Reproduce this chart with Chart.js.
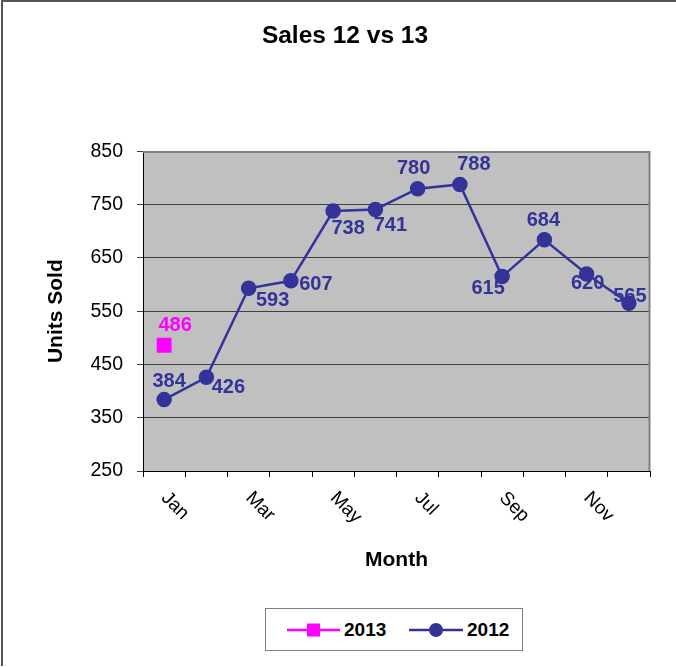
<!DOCTYPE html>
<html>
<head>
<meta charset="utf-8">
<script src="https://cdn.jsdelivr.net/npm/chart.js@4"></script>
<style>
  body { margin: 0; background: #fff; }
  #wrap { position: relative; width: 676px; height: 667px; }
  #legend {
    position: absolute; left: 265px; top: 608px; width: 258px; height: 43px;
    box-sizing: border-box; border: 1px solid #808080; background: #fff;
    font: bold 19px "Liberation Sans", Arial, sans-serif; color: #000;
  }
  #legend svg { position: absolute; left: 0; top: 0; }
  #legend span { position: absolute; top: 10px; line-height: 22px; }
</style>
</head>
<body>
<div id="wrap">
  <canvas id="salesChart"></canvas>
  <div id="legend">
    <svg width="258" height="43">
      <line x1="21" y1="21" x2="74" y2="21" stroke="#FF00FF" stroke-width="2.5"/>
      <rect x="41" y="14.5" width="13" height="13" fill="#FF00FF"/>
      <line x1="143" y1="21" x2="197" y2="21" stroke="#333399" stroke-width="2.5"/>
      <circle cx="170" cy="21" r="7" fill="#333399"/>
    </svg>
    <span style="left:78px">2013</span>
    <span style="left:201px">2012</span>
  </div>
</div>
<script>
const months = ["Jan", "Feb", "Mar", "Apr", "May", "Jun", "Jul", "Aug", "Sep", "Oct", "Nov", "Dec"];
const sales2012 = [384, 426, 593, 607, 738, 741, 780, 788, 615, 684, 620, 565];
const sales2013 = [486, null, null, null, null, null, null, null, null, null, null, null];
const yMin = 250;
const yMax = 850;
const yStep = 100;

// where each value label sits relative to its point (dx, dy)
const labelPos2012 = [[5, -18], [22, 10], [24, 12], [25, 4], [15, 17], [15, 16], [-4, -20], [14, -20], [-14, 12], [-1, -19], [1, 10], [1, -7]];
const labelPos2013 = [[11, -20]];

const fontFamily = '"Liberation Sans", Arial, sans-serif';
Chart.defaults.font.family = fontFamily;

const framePlugin = {
  id: "frame",
  beforeDraw(chart) {
    const ctx = chart.ctx;
    const a = chart.chartArea;
    ctx.save();
    ctx.fillStyle = "#fff";
    ctx.fillRect(0, 0, chart.width, chart.height);
    ctx.strokeStyle = "#555";
    ctx.lineWidth = 2;
    ctx.beginPath();
    ctx.moveTo(2, chart.height - 1);
    ctx.lineTo(2, 1);
    ctx.lineTo(chart.width, 1);
    ctx.stroke();
    ctx.fillStyle = "#C0C0C0";
    ctx.fillRect(a.left, a.top, a.right - a.left, a.bottom - a.top);
    ctx.restore();
  },
  beforeDatasetsDraw(chart) {
    const ctx = chart.ctx;
    const a = chart.chartArea;
    ctx.save();
    ctx.strokeStyle = "#808080";
    ctx.lineWidth = 2;
    ctx.beginPath();
    ctx.moveTo(a.left, a.top + 0.5);
    ctx.lineTo(a.right - 0.5, a.top + 0.5);
    ctx.lineTo(a.right - 0.5, a.bottom);
    ctx.stroke();
    ctx.restore();
  },
  afterDraw(chart) {
    const ctx = chart.ctx;
    const x = chart.scales.x;
    ctx.save();
    ctx.font = "19px " + fontFamily;
    ctx.fillStyle = "#000";
    ctx.textAlign = "left";
    ctx.textBaseline = "middle";
    months.forEach((m, i) => {
      if (i % 2 !== 0) return;
      const px = x.getPixelForValue(i);
      ctx.save();
      ctx.translate(px, chart.chartArea.bottom + 24);
      ctx.rotate(Math.PI / 4);
      ctx.fillText(m, 0, 0);
      ctx.restore();
    });

    ctx.font = "bold 20px " + fontFamily;
    ctx.textAlign = "center";
    const drawLabels = (dsIndex, values, offsets, color) => {
      const meta = chart.getDatasetMeta(dsIndex);
      ctx.fillStyle = color;
      values.forEach((v, i) => {
        if (v === null) return;
        const pt = meta.data[i];
        const off = offsets[i];
        ctx.fillText(String(v), pt.x + off[0], pt.y + off[1]);
      });
    };
    drawLabels(1, sales2012, labelPos2012, "#333399");
    drawLabels(0, sales2013, labelPos2013, "#FF00FF");
    ctx.restore();
  }
};

new Chart(document.getElementById("salesChart"), {
  type: "line",
  data: {
    labels: months,
    datasets: [
      {
        label: "2013",
        data: sales2013,
        borderColor: "#FF00FF",
        backgroundColor: "#FF00FF",
        pointStyle: "rect",
        pointRadius: 10.5,
        pointBorderWidth: 0,
        showLine: false
      },
      {
        label: "2012",
        data: sales2012,
        borderColor: "#333399",
        backgroundColor: "#333399",
        borderWidth: 2.5,
        pointStyle: "circle",
        pointRadius: 7,
        pointBorderWidth: 1.5,
        tension: 0
      }
    ]
  },
  options: {
    responsive: true,
    maintainAspectRatio: false,
    animation: false,
    events: [],
    layout: { padding: { left: 40, right: 26, top: 0, bottom: 76 } },
    plugins: {
      legend: { display: false },
      tooltip: { enabled: false },
      title: {
        display: true,
        text: "Sales 12 vs 13",
        color: "#000",
        font: { size: 24.5, weight: "bold" },
        padding: { top: 22, bottom: 100 }
      }
    },
    scales: {
      x: {
        offset: true,
        afterFit: s => { s.height = 120; },
        grid: { offset: true, drawOnChartArea: false, drawTicks: true, tickLength: 6, color: "#000" },
        border: { color: "#000", width: 1 },
        ticks: { display: false, autoSkip: false },
        title: {
          display: true,
          text: "Month",
          color: "#000",
          font: { size: 21, weight: "bold" },
          padding: { top: 0, bottom: 18 }
        }
      },
      y: {
        min: yMin,
        max: yMax,
        afterFit: s => { s.width = 103; },
        grid: { color: "#404040", lineWidth: 1, tickLength: 6 },
        border: { color: "#000", width: 1 },
        ticks: {
          stepSize: yStep,
          color: "#000",
          padding: 14,
          font: { size: 19.5 }
        },
        title: {
          display: true,
          text: "Units Sold",
          color: "#000",
          font: { size: 21, weight: "bold" },
          padding: { top: 4, bottom: 0 }
        }
      }
    }
  },
  plugins: [framePlugin]
});
</script>
</body>
</html>
